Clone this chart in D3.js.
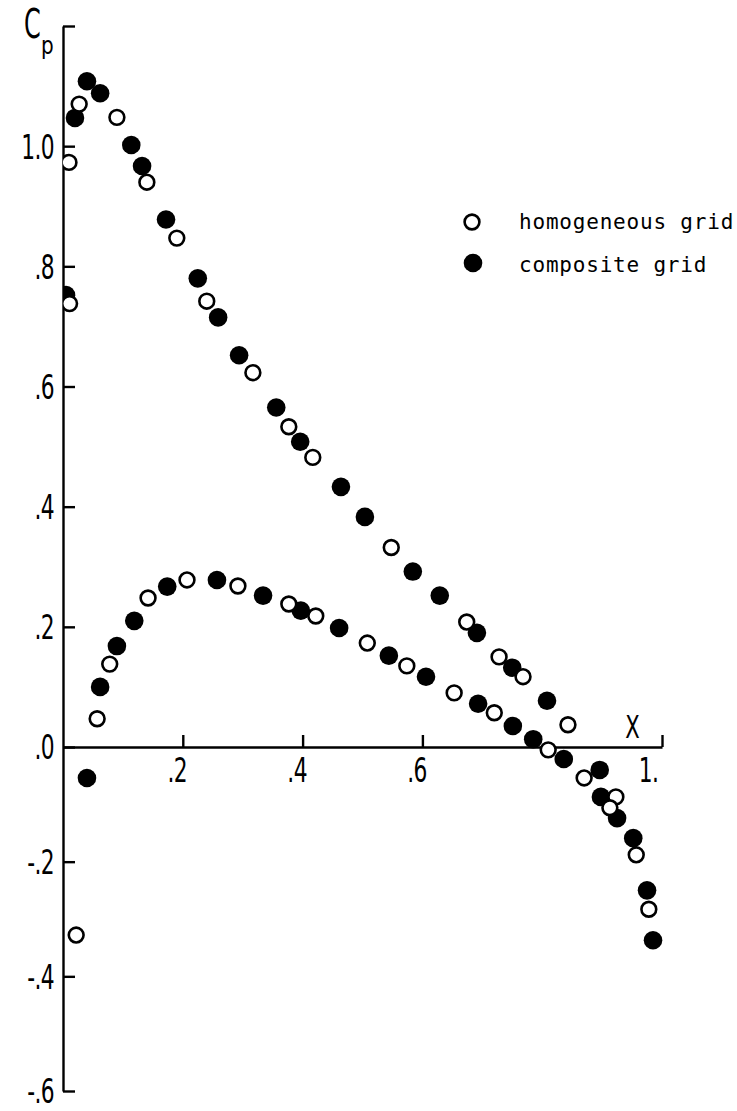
<!DOCTYPE html>
<html>
<head>
<meta charset="utf-8">
<script src="https://cdn.jsdelivr.net/npm/d3@7"></script>
<style>
  body { margin: 0; background: #fff; }
  svg { display: block; }
  .axis path, .axis line { stroke: #000; stroke-width: 2.4px; }
  .axis text { font-family: "DejaVu Sans", sans-serif; font-size: 33px; fill: #000; letter-spacing: -1px; }
  .legend text { font-family: "DejaVu Sans Mono", monospace; font-size: 21px; letter-spacing: 0.8px; fill: #000; }
</style>
</head>
<body>
<svg id="drawing_region"></svg>
<script>
// homogeneous grid (open circles)
const homX = [0.011, 0.010, 0.027, 0.090, 0.140, 0.190, 0.240, 0.317, 0.377, 0.417, 0.548, 0.674, 0.728, 0.768, 0.843,
              0.022, 0.057, 0.078, 0.142, 0.207, 0.292, 0.377, 0.422, 0.508, 0.574, 0.653, 0.720, 0.810, 0.870, 0.923, 0.913, 0.957, 0.978];
const homY = [0.738, 0.973, 1.070, 1.048, 0.940, 0.847, 0.742, 0.623, 0.533, 0.482, 0.332, 0.208, 0.150, 0.117, 0.037,
              -0.328, 0.047, 0.138, 0.248, 0.278, 0.268, 0.238, 0.218, 0.173, 0.135, 0.090, 0.057, -0.005, -0.054, -0.087, -0.106, -0.188, -0.283];

// composite grid (filled circles)
const comX = [0.005, 0.020, 0.040, 0.062, 0.114, 0.132, 0.172, 0.225, 0.259, 0.294, 0.356, 0.396, 0.464, 0.504, 0.584, 0.629, 0.691, 0.750, 0.808,
              0.040, 0.062, 0.090, 0.119, 0.174, 0.257, 0.334, 0.397, 0.461, 0.544, 0.606, 0.693, 0.751, 0.785, 0.836, 0.896, 0.898, 0.925, 0.952, 0.975, 0.985];
const comY = [0.752, 1.047, 1.108, 1.088, 1.002, 0.967, 0.878, 0.780, 0.715, 0.652, 0.565, 0.508, 0.433, 0.383, 0.292, 0.252, 0.190, 0.132, 0.077,
              -0.054, 0.100, 0.168, 0.210, 0.267, 0.278, 0.252, 0.227, 0.198, 0.152, 0.117, 0.072, 0.035, 0.013, -0.021, -0.040, -0.087, -0.124, -0.159, -0.250, -0.337];

const xTicks = [0.2, 0.4, 0.6, 1.0];
const xTickLabels = [".2", ".4", ".6", "1."];
const yTicks = [-0.6, -0.4, -0.2, 0, 0.2, 0.4, 0.6, 0.8, 1.0, 1.2];
const yTickLabels = ["-.6", "-.4", "-.2", ".0", ".2", ".4", ".6", ".8", "1.0", ""];

const seriesNames = ["homogeneous grid", "composite grid"];

const W = 737, H = 1111;
const svg = d3.select("#drawing_region").attr("width", W).attr("height", H);

const x = d3.scaleLinear().domain([0, 1]).range([63, 662]);
// the scanned axis is not quite uniform above and below zero
const y = d3.scaleLinear().domain([-0.6, 0, 1.2]).range([1091, 747, 26]);

// y axis
const yAxis = svg.append("g").attr("class", "axis")
    .attr("transform", `translate(${x(0)},0)`)
    .call(d3.axisLeft(y).tickValues(yTicks).tickSizeInner(-12).tickSizeOuter(0).tickPadding(0)
        .tickFormat((d, i) => yTickLabels[i]));
yAxis.selectAll("text")
    .attr("x", null).attr("dy", "0.36em")
    .attr("transform", "translate(-9,0) scale(0.66,1)");

// x axis
const xAxis = svg.append("g").attr("class", "axis")
    .attr("transform", `translate(0,${y(0)})`)
    .call(d3.axisBottom(x).tickValues(xTicks).tickSizeInner(-12).tickSizeOuter(0).tickPadding(0)
        .tickFormat((d, i) => xTickLabels[i]));
xAxis.selectAll("text")
    .attr("y", null).attr("dy", null)
    .attr("transform", d => `translate(${d === 1 ? -14 : -6},35) scale(0.66,1)`);
svg.selectAll(".axis .domain").attr("fill", "none");

// axis titles
const title = svg.append("g").attr("class", "axis");
title.append("text").attr("transform", "translate(24,38) scale(0.6,1)")
    .style("font-size", "40px").text("C");
title.append("text").attr("transform", "translate(41,54) scale(0.8,1)")
    .style("font-size", "25px").text("p");
title.append("text").attr("transform", `translate(${x(0.95)},738) scale(0.66,1)`)
    .attr("text-anchor", "middle").style("font-size", "32px").text("X");

// points
svg.append("clipPath").attr("id", "plotclip")
    .append("rect").attr("x", x(0)).attr("y", 0).attr("width", W).attr("height", H);

const plot = svg.append("g").attr("clip-path", "url(#plotclip)");

plot.selectAll("circle.com")
    .data(comX.map((v, i) => [v, comY[i]]))
    .enter()
    .append("circle")
    .attr("class", "com")
    .attr("cx", d => x(d[0]))
    .attr("cy", d => y(d[1]))
    .attr("r", 9.3)
    .attr("fill", "#000");

plot.selectAll("circle.hom")
    .data(homX.map((v, i) => [v, homY[i]]))
    .enter()
    .append("circle")
    .attr("class", "hom")
    .attr("cx", d => x(d[0]))
    .attr("cy", d => y(d[1]))
    .attr("r", 7.4)
    .attr("fill", "#fff")
    .attr("stroke", "#000")
    .attr("stroke-width", 2.6);

// legend
const legend = svg.append("g").attr("class", "legend");
legend.append("circle").attr("cx", 472).attr("cy", 222).attr("r", 7.4)
    .attr("fill", "#fff").attr("stroke", "#000").attr("stroke-width", 2.6);
legend.append("text").attr("x", 519).attr("y", 229).text(seriesNames[0]);
legend.append("circle").attr("cx", 473).attr("cy", 263).attr("r", 9.3).attr("fill", "#000");
legend.append("text").attr("x", 519).attr("y", 272).text(seriesNames[1]);
</script>
</body>
</html>
